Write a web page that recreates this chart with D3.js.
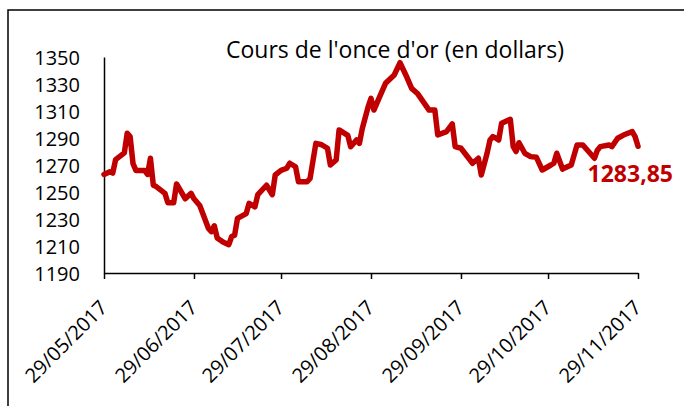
<!DOCTYPE html>
<html>
<head>
<meta charset="utf-8">
<script src="https://cdn.jsdelivr.net/npm/d3@7"></script>
<style>
  body { margin: 0; background: #fff; }
  svg { display: block; font-family: "Open Sans", sans-serif; }
  .axis path, .axis line { stroke: #000; stroke-width: 1.5px; }
  .axis text { fill: #000; font-size: 20px; font-family: "Open Sans", sans-serif; }
</style>
</head>
<body>
<svg width="684" height="406"></svg>
<script>
// gold price, daily close
var dates = ["29/05/2017","31/05/2017","01/06/2017","02/06/2017","05/06/2017","06/06/2017","07/06/2017",
  "08/06/2017","09/06/2017","12/06/2017","13/06/2017","14/06/2017","15/06/2017","16/06/2017","19/06/2017",
  "20/06/2017","22/06/2017","23/06/2017","26/06/2017","28/06/2017","29/06/2017","01/07/2017","04/07/2017",
  "05/07/2017","06/07/2017","07/07/2017","09/07/2017","11/07/2017","12/07/2017","13/07/2017","14/07/2017",
  "17/07/2017","18/07/2017","20/07/2017","21/07/2017","24/07/2017","26/07/2017","27/07/2017","29/07/2017",
  "31/07/2017","01/08/2017","03/08/2017","04/08/2017","07/08/2017","08/08/2017","10/08/2017","12/08/2017",
  "14/08/2017","15/08/2017","17/08/2017","18/08/2017","21/08/2017","22/08/2017","24/08/2017","25/08/2017",
  "26/08/2017","28/08/2017","29/08/2017","30/08/2017","01/09/2017","03/09/2017","06/09/2017","08/09/2017",
  "10/09/2017","12/09/2017","14/09/2017","18/09/2017","20/09/2017","21/09/2017","24/09/2017","26/09/2017",
  "27/09/2017","29/09/2017","03/10/2017","05/10/2017","06/10/2017","08/10/2017","09/10/2017","10/10/2017",
  "11/10/2017","12/10/2017","13/10/2017","16/10/2017","17/10/2017","18/10/2017","19/10/2017","21/10/2017",
  "23/10/2017","25/10/2017","27/10/2017","30/10/2017","31/10/2017","01/11/2017","03/11/2017","06/11/2017",
  "08/11/2017","10/11/2017","14/11/2017","15/11/2017","16/11/2017","19/11/2017","20/11/2017","22/11/2017",
  "24/11/2017","27/11/2017","28/11/2017","29/11/2017"];

var prices = [1263,1265,1264,1274,1279,1293.5,1291,
  1271,1266,1266,1263,1275,1255,1254,1249,
  1242,1242,1256,1245,1249,1245,1240,1223,
  1220.6,1225,1216,1213,1211,1217,1218,1230.5,
  1234,1241.6,1239,1248,1255,1248,1262.6,1266,
  1267.6,1271.3,1268.7,1257.6,1257.6,1260,1286,1285,
  1282.4,1270,1273.7,1296,1292,1283.5,1288.5,1286,
  1297,1313,1319.4,1310.7,1320.6,1330.5,1336.7,1345.8,
  1336.7,1326.8,1323,1310.7,1310.7,1292.2,1294.7,1300.4,
  1283.6,1282.4,1271.3,1275,1262.6,1278.7,1288.5,1291,
  1290,1288.5,1301,1303.8,1283.6,1280,1286.5,1278.7,
  1276.2,1275.7,1266.3,1270,1271.3,1278.7,1267,1270,
  1284.8,1284.8,1275,1281,1283.6,1284.8,1283.6,1289.8,
  1292.2,1294.7,1291,1283.85];

var xTicks = ["29/05/2017","29/06/2017","29/07/2017","29/08/2017","29/09/2017","29/10/2017","29/11/2017"];
var yTicks = [1190,1210,1230,1250,1270,1290,1310,1330,1350];

var title = "Cours de l'once d'or (en dollars)";
var lastLabel = "1283,85";

var parse = d3.timeParse("%d/%m/%Y");
var fmt = d3.timeFormat("%d/%m/%Y");

var data = dates.map(function(d, i) {
    return { date: parse(d), value: prices[i] };
});

var svg = d3.select("svg"),
    margin = { top: 57, right: 46, bottom: 133, left: 104 },
    width = +svg.attr("width"),
    height = +svg.attr("height");

// outer frame (only top and left edges show)
svg.append("path")
    .attr("d", "M8,406V10H684")
    .attr("fill", "none")
    .attr("stroke", "#000")
    .attr("stroke-width", 1.5);

var x = d3.scaleTime()
    .domain([parse(xTicks[0]), parse(xTicks[xTicks.length - 1])])
    .range([margin.left, width - margin.right]);

var y = d3.scaleLinear()
    .domain([1190, 1350])
    .range([height - margin.bottom, margin.top]);

svg.append("text")
    .attr("x", 395)
    .attr("y", 58)
    .attr("text-anchor", "middle")
    .style("font-size", "23px")
    .text(title);

svg.append("g")
    .attr("class", "y axis")
    .attr("transform", "translate(" + margin.left + ",0)")
    .call(d3.axisLeft(y).tickValues(yTicks).tickSize(0).tickPadding(24).tickFormat(d3.format("d")))
    .selectAll("text")
    .attr("dy", "0.35em");

var xAxis = svg.append("g")
    .attr("class", "x axis")
    .attr("transform", "translate(0," + (height - margin.bottom) + ")")
    .call(d3.axisBottom(x).tickValues(xTicks.map(parse)).tickSize(6).tickSizeOuter(0).tickFormat(fmt));

xAxis.selectAll("text")
    .attr("text-anchor", "end")
    .attr("y", 0)
    .attr("dy", 0)
    .attr("transform", "translate(4,36) rotate(-45)");

var line = d3.line()
    .x(function(d) { return x(d.date); })
    .y(function(d) { return y(d.value); });

svg.append("path")
    .datum(data)
    .attr("fill", "none")
    .attr("stroke", "#c00000")
    .attr("stroke-width", 5.5)
    .attr("stroke-linejoin", "round")
    .attr("stroke-linecap", "round")
    .attr("d", line);

var last = data[data.length - 1];
svg.append("text")
    .attr("x", x(last.date) + 35)
    .attr("y", y(last.value) + 36)
    .attr("text-anchor", "end")
    .attr("fill", "#c00000")
    .style("font-size", "23px")
    .style("font-weight", "bold")
    .text(lastLabel);
</script>
</body>
</html>
